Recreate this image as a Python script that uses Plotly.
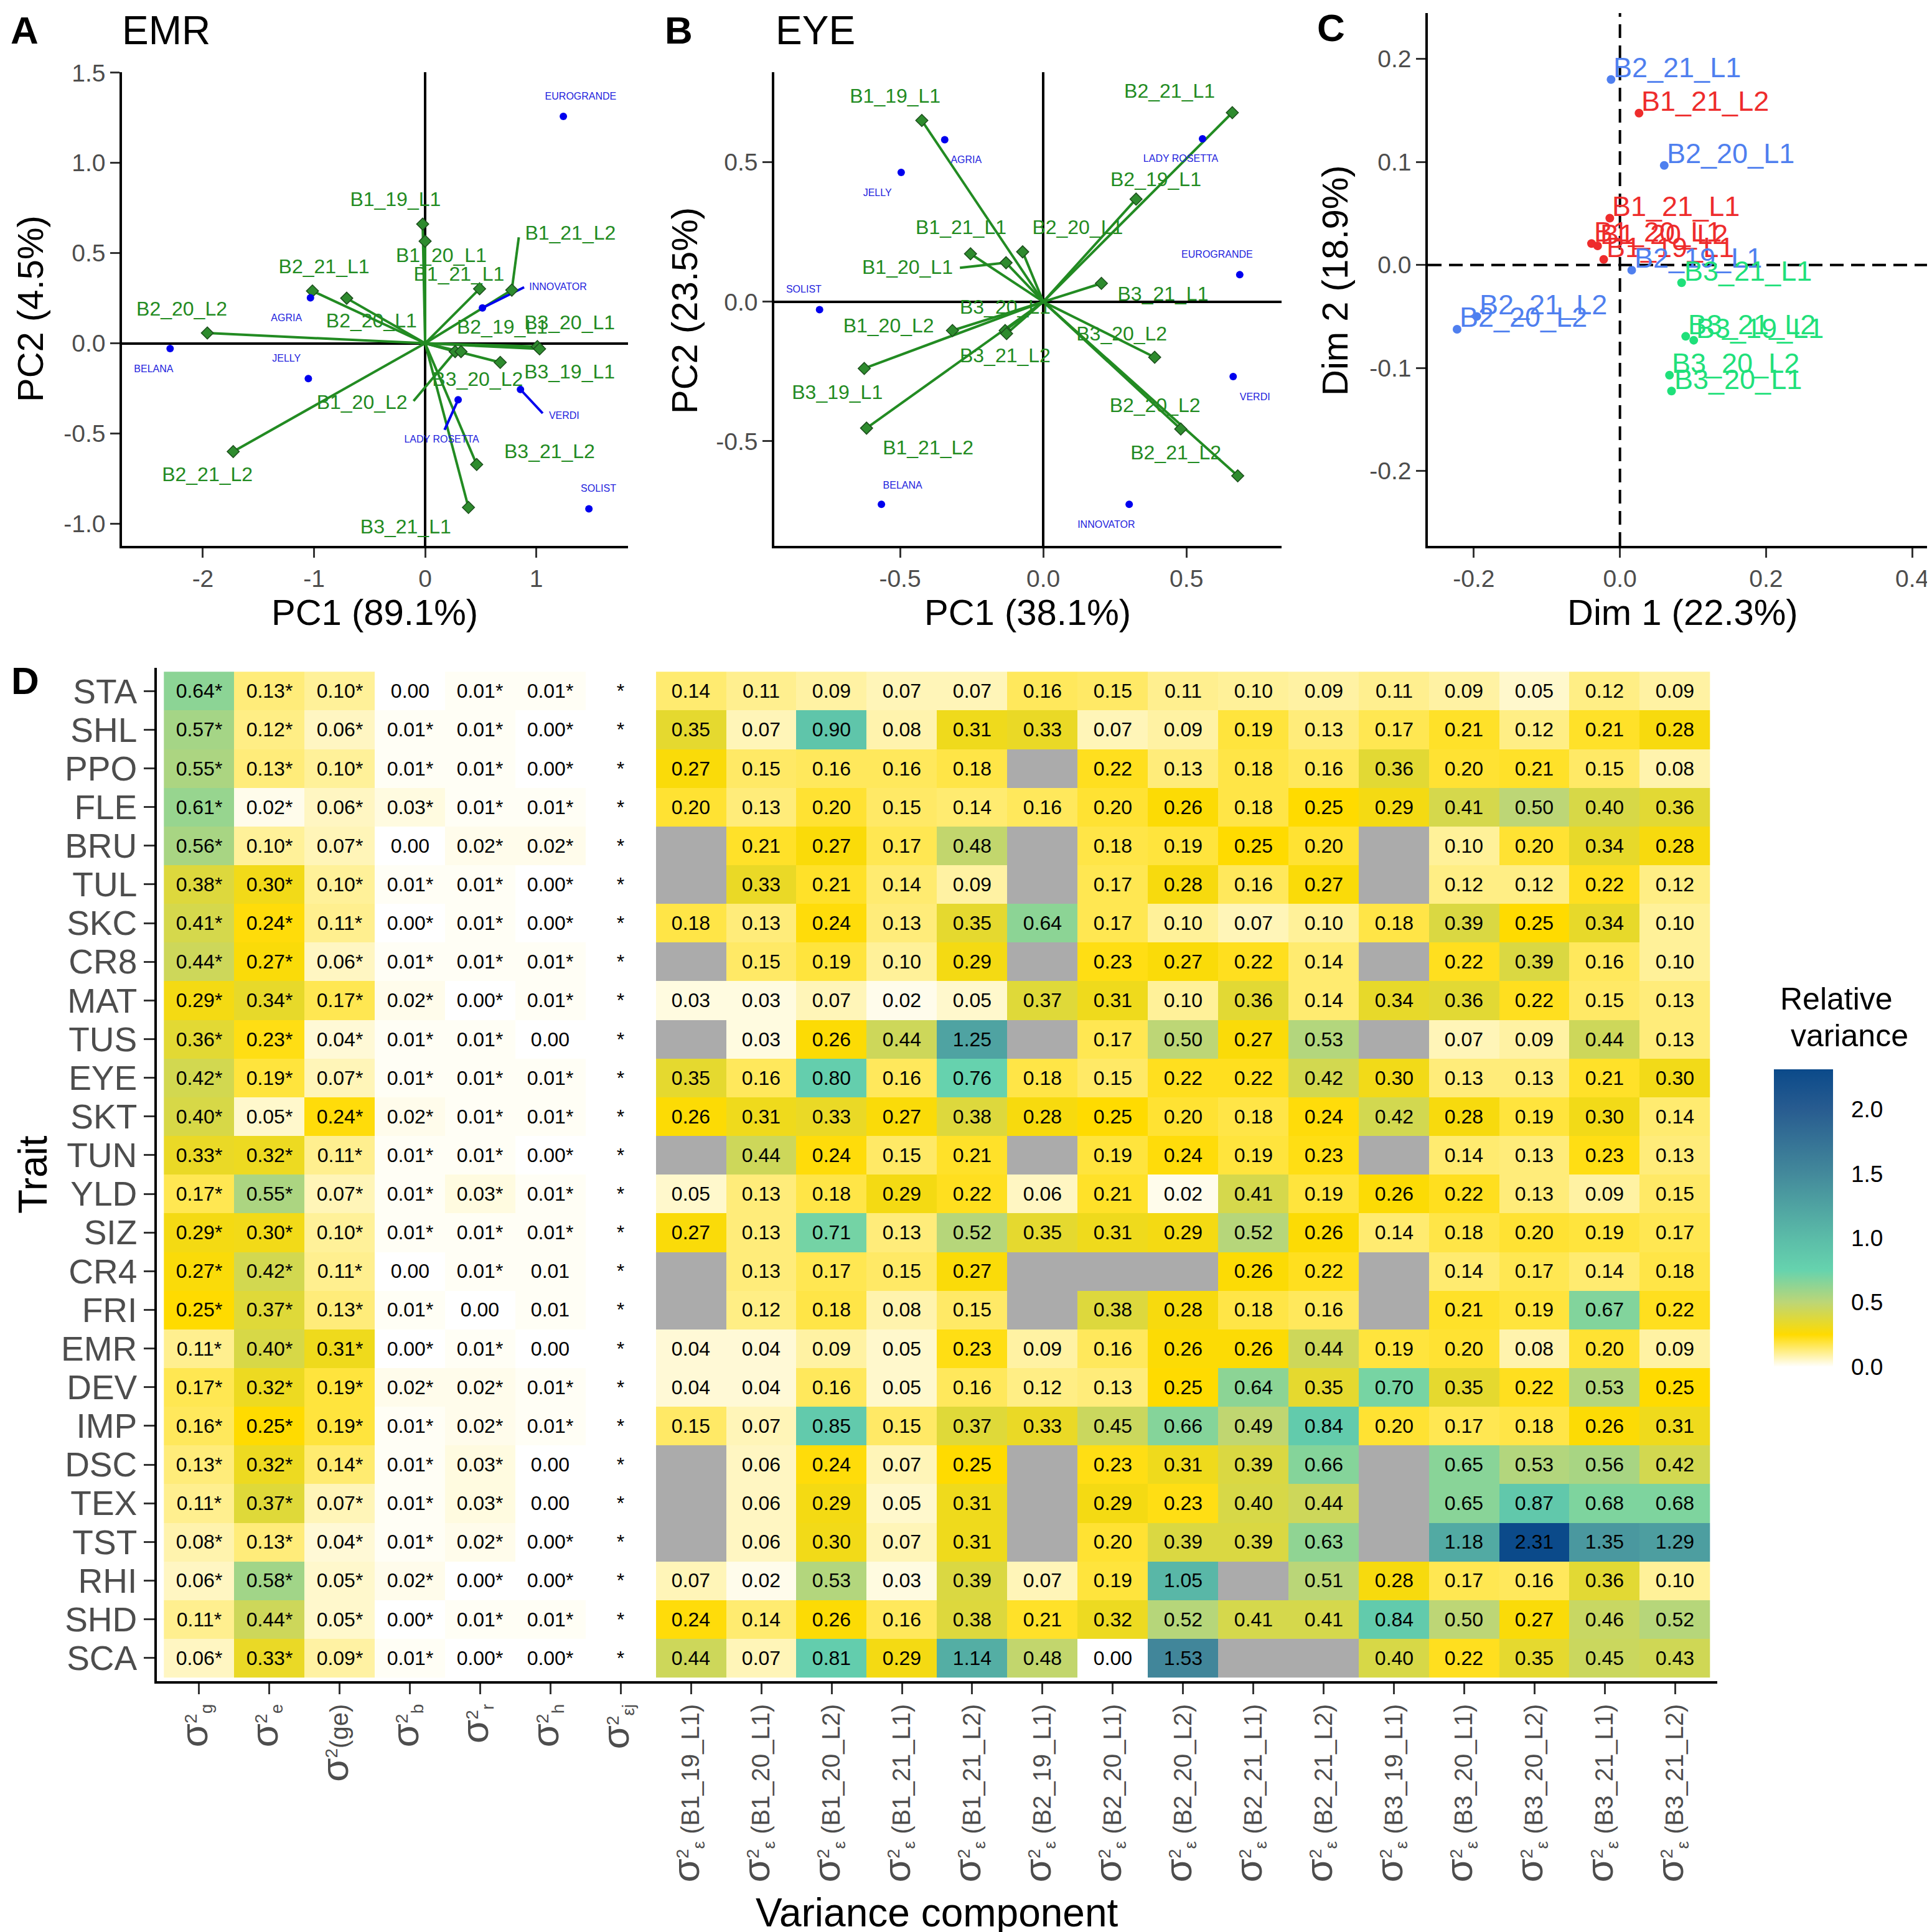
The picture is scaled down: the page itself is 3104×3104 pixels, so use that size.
import plotly.graph_objects as go

W = H = 3104
def px(x): return x / W
def py(y): return 1 - y / H

FONT = "Liberation Sans, Arial, sans-serif"
TICKGRAY = "#4D4D4D"
GREEN = "#228B22"
BLUE = "#0000EE"

# ---------------- data: environments / genotypes ----------------
env_names = ["B1_19_L1", "B1_20_L1", "B1_20_L2", "B1_21_L1", "B1_21_L2",
             "B2_19_L1", "B2_20_L1", "B2_20_L2", "B2_21_L1", "B2_21_L2",
             "B3_19_L1", "B3_20_L1", "B3_20_L2", "B3_21_L1", "B3_21_L2"]
geno_names = ["AGRIA", "BELANA", "EUROGRANDE", "INNOVATOR", "JELLY",
              "LADY ROSETTA", "SOLIST", "VERDI"]

# Panel A (EMR biplot)
a_env_x = [-0.022, 0.000, 0.270, 0.490, 0.780, 1.010, -0.706, -1.960, -1.014, -1.727,
           0.676, 1.030, 0.323, 0.390, 0.464]
a_env_y = [0.661, 0.566, -0.046, 0.302, 0.295, -0.018, 0.250, 0.057, 0.290, -0.600,
           -0.106, -0.031, -0.046, -0.910, -0.672]
a_envlab_x = [-0.267, 0.145, -0.568, 0.305, 1.307, 0.694, -0.483, -2.190, -0.910, -1.960,
              1.300, 1.300, 0.472, -0.175, 1.120]
a_envlab_y = [0.788, 0.479, -0.337, 0.375, 0.603, 0.082, 0.115, 0.180, 0.416, -0.738,
              -0.167, 0.104, -0.210, -1.026, -0.608]
a_gen_x = [-1.032, -2.295, 1.244, 0.516, -1.051, 0.297, 1.474, 0.858]
a_gen_y = [0.252, -0.029, 1.258, 0.196, -0.196, -0.313, -0.918, -0.256]
a_genlab_x = [-1.248, -2.443, 1.400, 1.196, -1.248, 0.149, 1.560, 1.251]
a_genlab_y = [0.135, -0.146, 1.366, 0.308, -0.088, -0.537, -0.810, -0.405]
# label leader segments (name, end x, end y)
a_gen_seg = [("INNOVATOR", 0.891, 0.311), ("VERDI", 1.058, -0.388), ("LADY ROSETTA", 0.175, -0.480)]
a_env_seg = [("B1_21_L2", 0.843, 0.588), ("B1_20_L2", -0.104, -0.320)]

# Panel B (EYE biplot)
b_env_x = [-0.424, -0.130, -0.317, -0.254, -0.617, 0.324, -0.072, 0.480, 0.660, 0.679,
           -0.625, -0.133, 0.389, 0.203, -0.128]
b_env_y = [0.650, 0.140, -0.103, 0.172, -0.453, 0.368, 0.179, -0.456, 0.678, -0.624,
           -0.239, -0.103, -0.199, 0.066, -0.114]
b_envlab_x = [-0.517, -0.474, -0.540, -0.287, -0.402, 0.393, 0.120, 0.390, 0.441, 0.463,
              -0.719, -0.133, 0.274, 0.418, -0.133]
b_envlab_y = [0.731, 0.118, -0.091, 0.261, -0.530, 0.432, 0.261, -0.377, 0.749, -0.547,
              -0.330, -0.024, -0.120, 0.021, -0.199]
b_gen_x = [-0.344, -0.565, 0.686, 0.300, -0.496, 0.556, -0.781, 0.663]
b_gen_y = [0.581, -0.726, 0.097, -0.726, 0.464, 0.584, -0.028, -0.268]
b_genlab_x = [-0.269, -0.491, 0.607, 0.220, -0.579, 0.480, -0.836, 0.739]
b_genlab_y = [0.507, -0.660, 0.167, -0.802, 0.387, 0.510, 0.043, -0.345]
b_env_seg = [("B1_20_L1", -0.291, 0.122)]

# Panel C (environment map)
c_x = [-0.0222, -0.0389, -0.0306, -0.0139, 0.0261, 0.0161, 0.0606, -0.2230, -0.0122, -0.1960,
       0.1010, 0.0706, 0.0678, 0.0844, 0.0900]
c_y = [0.0054, 0.0208, 0.0185, 0.0454, 0.1474, -0.0050, 0.0966, -0.0624, 0.1800, -0.0500,
       -0.0731, -0.1224, -0.1070, -0.0173, -0.0693]
c_group_colors = {"B1": "#EE2C2C", "B2": "#4F7FEF", "B3": "#1FE07A"}

# ---------------- data: heatmap ----------------
traits = ["STA", "SHL", "PPO", "FLE", "BRU", "TUL", "SKC", "CR8", "MAT", "TUS", "EYE", "SKT",
          "TUN", "YLD", "SIZ", "CR4", "FRI", "EMR", "DEV", "IMP", "DSC", "TEX", "TST", "RHI",
          "SHD", "SCA"]
comp_vals = [
    [0.64, 0.13, 0.10, 0.00, 0.01, 0.01],
    [0.57, 0.12, 0.06, 0.01, 0.01, 0.00],
    [0.55, 0.13, 0.10, 0.01, 0.01, 0.00],
    [0.61, 0.02, 0.06, 0.03, 0.01, 0.01],
    [0.56, 0.10, 0.07, 0.00, 0.02, 0.02],
    [0.38, 0.30, 0.10, 0.01, 0.01, 0.00],
    [0.41, 0.24, 0.11, 0.00, 0.01, 0.00],
    [0.44, 0.27, 0.06, 0.01, 0.01, 0.01],
    [0.29, 0.34, 0.17, 0.02, 0.00, 0.01],
    [0.36, 0.23, 0.04, 0.01, 0.01, 0.00],
    [0.42, 0.19, 0.07, 0.01, 0.01, 0.01],
    [0.40, 0.05, 0.24, 0.02, 0.01, 0.01],
    [0.33, 0.32, 0.11, 0.01, 0.01, 0.00],
    [0.17, 0.55, 0.07, 0.01, 0.03, 0.01],
    [0.29, 0.30, 0.10, 0.01, 0.01, 0.01],
    [0.27, 0.42, 0.11, 0.00, 0.01, 0.01],
    [0.25, 0.37, 0.13, 0.01, 0.00, 0.01],
    [0.11, 0.40, 0.31, 0.00, 0.01, 0.00],
    [0.17, 0.32, 0.19, 0.02, 0.02, 0.01],
    [0.16, 0.25, 0.19, 0.01, 0.02, 0.01],
    [0.13, 0.32, 0.14, 0.01, 0.03, 0.00],
    [0.11, 0.37, 0.07, 0.01, 0.03, 0.00],
    [0.08, 0.13, 0.04, 0.01, 0.02, 0.00],
    [0.06, 0.58, 0.05, 0.02, 0.00, 0.00],
    [0.11, 0.44, 0.05, 0.00, 0.01, 0.01],
    [0.06, 0.33, 0.09, 0.01, 0.00, 0.00],
]
# significance flags ("*" = significant, "." = not)
comp_sig = [
    "***.**", "******", "******", "******", "***.**", "******", "******", "******",
    "******", "*****.", "******", "******", "******", "******", "******", "***.*.",
    "****..", "*****.", "******", "******", "*****.", "*****.", "******", "******",
    "******", "******",
]
N = None
resid_vals = [
    [0.14, 0.11, 0.09, 0.07, 0.07, 0.16, 0.15, 0.11, 0.10, 0.09, 0.11, 0.09, 0.05, 0.12, 0.09],
    [0.35, 0.07, 0.90, 0.08, 0.31, 0.33, 0.07, 0.09, 0.19, 0.13, 0.17, 0.21, 0.12, 0.21, 0.28],
    [0.27, 0.15, 0.16, 0.16, 0.18, N, 0.22, 0.13, 0.18, 0.16, 0.36, 0.20, 0.21, 0.15, 0.08],
    [0.20, 0.13, 0.20, 0.15, 0.14, 0.16, 0.20, 0.26, 0.18, 0.25, 0.29, 0.41, 0.50, 0.40, 0.36],
    [N, 0.21, 0.27, 0.17, 0.48, N, 0.18, 0.19, 0.25, 0.20, N, 0.10, 0.20, 0.34, 0.28],
    [N, 0.33, 0.21, 0.14, 0.09, N, 0.17, 0.28, 0.16, 0.27, N, 0.12, 0.12, 0.22, 0.12],
    [0.18, 0.13, 0.24, 0.13, 0.35, 0.64, 0.17, 0.10, 0.07, 0.10, 0.18, 0.39, 0.25, 0.34, 0.10],
    [N, 0.15, 0.19, 0.10, 0.29, N, 0.23, 0.27, 0.22, 0.14, N, 0.22, 0.39, 0.16, 0.10],
    [0.03, 0.03, 0.07, 0.02, 0.05, 0.37, 0.31, 0.10, 0.36, 0.14, 0.34, 0.36, 0.22, 0.15, 0.13],
    [N, 0.03, 0.26, 0.44, 1.25, N, 0.17, 0.50, 0.27, 0.53, N, 0.07, 0.09, 0.44, 0.13],
    [0.35, 0.16, 0.80, 0.16, 0.76, 0.18, 0.15, 0.22, 0.22, 0.42, 0.30, 0.13, 0.13, 0.21, 0.30],
    [0.26, 0.31, 0.33, 0.27, 0.38, 0.28, 0.25, 0.20, 0.18, 0.24, 0.42, 0.28, 0.19, 0.30, 0.14],
    [N, 0.44, 0.24, 0.15, 0.21, N, 0.19, 0.24, 0.19, 0.23, N, 0.14, 0.13, 0.23, 0.13],
    [0.05, 0.13, 0.18, 0.29, 0.22, 0.06, 0.21, 0.02, 0.41, 0.19, 0.26, 0.22, 0.13, 0.09, 0.15],
    [0.27, 0.13, 0.71, 0.13, 0.52, 0.35, 0.31, 0.29, 0.52, 0.26, 0.14, 0.18, 0.20, 0.19, 0.17],
    [N, 0.13, 0.17, 0.15, 0.27, N, N, N, 0.26, 0.22, N, 0.14, 0.17, 0.14, 0.18],
    [N, 0.12, 0.18, 0.08, 0.15, N, 0.38, 0.28, 0.18, 0.16, N, 0.21, 0.19, 0.67, 0.22],
    [0.04, 0.04, 0.09, 0.05, 0.23, 0.09, 0.16, 0.26, 0.26, 0.44, 0.19, 0.20, 0.08, 0.20, 0.09],
    [0.04, 0.04, 0.16, 0.05, 0.16, 0.12, 0.13, 0.25, 0.64, 0.35, 0.70, 0.35, 0.22, 0.53, 0.25],
    [0.15, 0.07, 0.85, 0.15, 0.37, 0.33, 0.45, 0.66, 0.49, 0.84, 0.20, 0.17, 0.18, 0.26, 0.31],
    [N, 0.06, 0.24, 0.07, 0.25, N, 0.23, 0.31, 0.39, 0.66, N, 0.65, 0.53, 0.56, 0.42],
    [N, 0.06, 0.29, 0.05, 0.31, N, 0.29, 0.23, 0.40, 0.44, N, 0.65, 0.87, 0.68, 0.68],
    [N, 0.06, 0.30, 0.07, 0.31, N, 0.20, 0.39, 0.39, 0.63, N, 1.18, 2.31, 1.35, 1.29],
    [0.07, 0.02, 0.53, 0.03, 0.39, 0.07, 0.19, 1.05, N, 0.51, 0.28, 0.17, 0.16, 0.36, 0.10],
    [0.24, 0.14, 0.26, 0.16, 0.38, 0.21, 0.32, 0.52, 0.41, 0.41, 0.84, 0.50, 0.27, 0.46, 0.52],
    [0.44, 0.07, 0.81, 0.29, 1.14, 0.48, 0.00, 1.53, N, N, 0.40, 0.22, 0.35, 0.45, 0.43],
]
SIG = '<span style="font-size:62px">σ</span>'
comp_labels = [SIG + "<sup>2</sup><sub>g</sub>", SIG + "<sup>2</sup><sub>e</sub>",
               SIG + "<sup>2</sup>(ge)", SIG + "<sup>2</sup><sub>b</sub>",
               SIG + "<sup>2</sup><sub>r</sub>", SIG + "<sup>2</sup><sub>h</sub>",
               SIG + "<sup>2</sup><sub>εj</sub>"]
resid_labels = [SIG + "<sup>2</sup><sub>ε</sub> (" + e + ")" for e in env_names]
cbar_ticks = [0.0, 0.5, 1.0, 1.5, 2.0]
ZMAX = 2.31
cscale_vals = [0.0, 0.25, 0.5, 0.75, 1.0, 1.5, 2.0, 2.31]
cscale_cols = ["#FFFFFF", "#FFDB00", "#BDD676", "#66D3AE", "#5BBCA8", "#43899B", "#285C90", "#0B4A8A"]

# ---------------- figure ----------------
fig = go.Figure()

def biplot(xa, ya, ex, ey, lx, ly, gx, gy, glx, gly, gseg, eseg):
    lxs, lys = [], []
    for x, y in zip(ex, ey):
        lxs += [0, x, None]; lys += [0, y, None]
    fig.add_trace(go.Scatter(x=lxs, y=lys, mode="lines", line=dict(color=GREEN, width=4),
                             xaxis=xa, yaxis=ya, hoverinfo="skip", showlegend=False))
    sx, sy = [], []
    for name, x1, y1 in eseg:
        i = env_names.index(name)
        sx += [ex[i], x1, None]; sy += [ey[i], y1, None]
    if sx:
        fig.add_trace(go.Scatter(x=sx, y=sy, mode="lines", line=dict(color=GREEN, width=4),
                                 xaxis=xa, yaxis=ya, hoverinfo="skip", showlegend=False))
    bx, by = [], []
    for name, x1, y1 in gseg:
        i = geno_names.index(name)
        bx += [gx[i], x1, None]; by += [gy[i], y1, None]
    if bx:
        fig.add_trace(go.Scatter(x=bx, y=by, mode="lines", line=dict(color=BLUE, width=4),
                                 xaxis=xa, yaxis=ya, hoverinfo="skip", showlegend=False))
    fig.add_trace(go.Scatter(x=ex, y=ey, mode="markers",
                             marker=dict(symbol="diamond", size=15, color="#2E8B2E",
                                         line=dict(color="#1B4D1B", width=1.5)),
                             xaxis=xa, yaxis=ya, showlegend=False))
    fig.add_trace(go.Scatter(x=gx, y=gy, mode="markers", marker=dict(size=12, color=BLUE),
                             xaxis=xa, yaxis=ya, showlegend=False))
    fig.add_trace(go.Scatter(x=lx, y=ly, mode="text", text=env_names,
                             textfont=dict(size=32, color=GREEN, family=FONT),
                             xaxis=xa, yaxis=ya, showlegend=False))
    fig.add_trace(go.Scatter(x=glx, y=gly, mode="text", text=geno_names,
                             textfont=dict(size=16, color="#2222DD", family=FONT),
                             xaxis=xa, yaxis=ya, showlegend=False))

biplot("x", "y", a_env_x, a_env_y, a_envlab_x, a_envlab_y, a_gen_x, a_gen_y,
       a_genlab_x, a_genlab_y, a_gen_seg, a_env_seg)
biplot("x2", "y2", b_env_x, b_env_y, b_envlab_x, b_envlab_y, b_gen_x, b_gen_y,
       b_genlab_x, b_genlab_y, [], b_env_seg)

# Panel C
c_cols = [c_group_colors[n[:2]] for n in env_names]
fig.add_trace(go.Scatter(x=c_x, y=c_y, mode="markers", marker=dict(size=14, color=c_cols),
                         xaxis="x3", yaxis="y3", showlegend=False))

annotations = []
for n, x, y, col in zip(env_names, c_x, c_y, c_cols):
    annotations.append(dict(x=x, y=y, xref="x3", yref="y3", text=n, showarrow=False,
                            xanchor="left", yanchor="middle", xshift=2, yshift=19,
                            font=dict(size=45, color=col, family=FONT)))

# Heatmap D
ncomp = len(comp_labels)
z_main, z_na, txt = [], [], []
for r in range(len(traits)):
    zr, nr, tr = [], [], []
    for c in range(6):
        v = comp_vals[r][c]
        zr.append(v); nr.append(None)
        tr.append(f"{v:.2f}" + ("*" if comp_sig[r][c] == "*" else ""))
    zr.append(0.0); nr.append(None); tr.append("*")
    for v in resid_vals[r]:
        if v is None:
            zr.append(None); nr.append(1); tr.append("")
        else:
            zr.append(v); nr.append(None); tr.append(f"{v:.2f}")
    z_main.append(zr); z_na.append(nr); txt.append(tr)

xs = list(range(ncomp + len(resid_labels)))
ys = list(range(len(traits)))
fig.add_trace(go.Heatmap(z=z_na, x=xs, y=ys, colorscale=[[0, "#ABABAB"], [1, "#ABABAB"]],
                         showscale=False, hoverinfo="skip", xaxis="x4", yaxis="y4"))

cb_left, cb_thick, cb_top, cb_len = 2842, 95, 1710, 478
cscale = [[v / ZMAX, c] for v, c in zip(cscale_vals, cscale_cols)]
fig.add_trace(go.Heatmap(
    z=z_main, x=xs, y=ys, text=txt, texttemplate="%{text}",
    textfont=dict(size=32, color="black", family=FONT),
    colorscale=cscale, zmin=0, zmax=ZMAX, xaxis="x4", yaxis="y4",
    colorbar=dict(x=px(cb_left), xanchor="left", y=py(cb_top + cb_len / 2), yanchor="middle",
                  len=cb_len, lenmode="pixels", thickness=cb_thick, thicknessmode="pixels",
                  xpad=0, ypad=0, outlinewidth=0,
                  tickvals=cbar_ticks, ticktext=[f"{t:.1f}" for t in cbar_ticks],
                  ticks="outside", ticklen=22, tickcolor="rgba(0,0,0,0)",
                  tickfont=dict(size=37, color="black", family=FONT))))

shapes = []
# white ticks on both sides of the colorbar
for t in cbar_ticks:
    yy = cb_top + cb_len * (1 - t / ZMAX)
    for xa0, xa1 in [(cb_left, cb_left + 20), (cb_left + cb_thick - 20, cb_left + cb_thick)]:
        shapes.append(dict(type="line", xref="paper", yref="paper", x0=px(xa0), x1=px(xa1),
                           y0=py(yy), y1=py(yy), line=dict(color="white", width=2)))
# dashed reference lines in C
shapes.append(dict(type="line", xref="x3", yref="y3 domain", x0=0, x1=0, y0=0, y1=1,
                   line=dict(color="black", width=4, dash="22px,12px")))
shapes.append(dict(type="line", xref="x3 domain", yref="y3", x0=0, x1=1, y0=0, y1=0,
                   line=dict(color="black", width=4, dash="22px,12px")))

def ann(text, x, y, size, color="black", angle=0, anchor="center", bold=False):
    t = f"<b>{text}</b>" if bold else text
    annotations.append(dict(x=px(x), y=py(y), xref="paper", yref="paper", text=t,
                            showarrow=False, xanchor=anchor, yanchor="middle",
                            textangle=angle, font=dict(size=size, color=color, family=FONT)))

ann("A", 7, 41, 62, anchor="left", bold=True)
ann("B", 1058, 41, 62, anchor="left", bold=True)
ann("C", 2106, 37, 62, anchor="left", bold=True)
ann("D", 8, 1085, 62, anchor="left", bold=True)
ann("EMR", 186, 41, 64, anchor="left")
ann("EYE", 1236, 41, 64, anchor="left")
ann("PC1 (89.1%)", 594, 975, 58)
ann("PC2 (4.5%)", 40, 488, 58, angle=-90)
ann("PC1 (38.1%)", 1643, 975, 58)
ann("PC2 (23.5%)", 1091, 491, 58, angle=-90)
ann("Dim 1 (22.3%)", 2695, 975, 58)
ann("Dim 2 (18.9%)", 2136, 443, 58, angle=-90)
ann("Trait", 45, 1879, 64, angle=-90)
ann("Variance component", 1497, 3065, 64)
ann("Relative", 2942, 1597, 50)
ann("variance", 2963, 1656, 50)

def axis_common(**kw):
    d = dict(showgrid=False, showline=True, linecolor="black", linewidth=3.5,
             ticks="outside", ticklen=15, tickwidth=3, tickcolor="#333333",
             tickfont=dict(size=39, color=TICKGRAY, family=FONT), automargin=False,
             zeroline=False, fixedrange=True)
    d.update(kw)
    return d

def fmt(v, nd):
    return f"{v:.{nd}f}"

a_xt = [-2, -1, 0, 1]
a_yt = [-1.0, -0.5, 0.0, 0.5, 1.0, 1.5]
b_t = [-0.5, 0.0, 0.5]
c_xt = [-0.2, 0.0, 0.2, 0.4]
c_yt = [-0.2, -0.1, 0.0, 0.1, 0.2]

zl = dict(zeroline=True, zerolinecolor="black", zerolinewidth=3.5)
fig.update_layout(
    width=W, height=H, margin=dict(l=0, r=0, t=0, b=0),
    paper_bgcolor="white", plot_bgcolor="white", showlegend=False,
    font=dict(family=FONT),
    xaxis=axis_common(domain=[px(188), px(1001)], range=[-2.728, 1.826], anchor="y",
                      tickvals=a_xt, ticktext=[str(v) for v in a_xt], **zl),
    yaxis=axis_common(domain=[py(869), py(108)], range=[-1.123, 1.503], anchor="x",
                      tickvals=a_yt, ticktext=[fmt(v, 1) for v in a_yt], **zl),
    xaxis2=axis_common(domain=[px(1236), px(2051)], range=[-0.939, 0.832], anchor="y2",
                       tickvals=b_t, ticktext=[fmt(v, 1) for v in b_t], **zl),
    yaxis2=axis_common(domain=[py(869), py(108)], range=[-0.875, 0.823], anchor="x2",
                       tickvals=b_t, ticktext=[fmt(v, 1) for v in b_t], **zl),
    xaxis3=axis_common(domain=[px(2286), 1.0], range=[-0.263, 0.434], anchor="y3",
                       tickvals=c_xt, ticktext=[fmt(v, 1) for v in c_xt]),
    yaxis3=axis_common(domain=[py(869), py(13)], range=[-0.2727, 0.2445], anchor="x3",
                       tickvals=c_yt, ticktext=[fmt(v, 1) for v in c_yt]),
    xaxis4=axis_common(domain=[px(244), px(2751)], range=[-0.6, len(xs) - 0.4], anchor="y4",
                       tickvals=xs, ticktext=comp_labels + resid_labels, tickangle=-90,
                       ticklen=17, tickfont=dict(size=40, color=TICKGRAY, family=FONT)),
    yaxis4=axis_common(domain=[py(2693), py(1065)], range=[len(ys) - 0.4, -0.6], anchor="x4",
                       tickvals=ys, ticktext=traits, ticklen=17,
                       tickfont=dict(size=55, color=TICKGRAY, family=FONT)),
    annotations=annotations, shapes=shapes,
)

fig.write_html("out.html")
